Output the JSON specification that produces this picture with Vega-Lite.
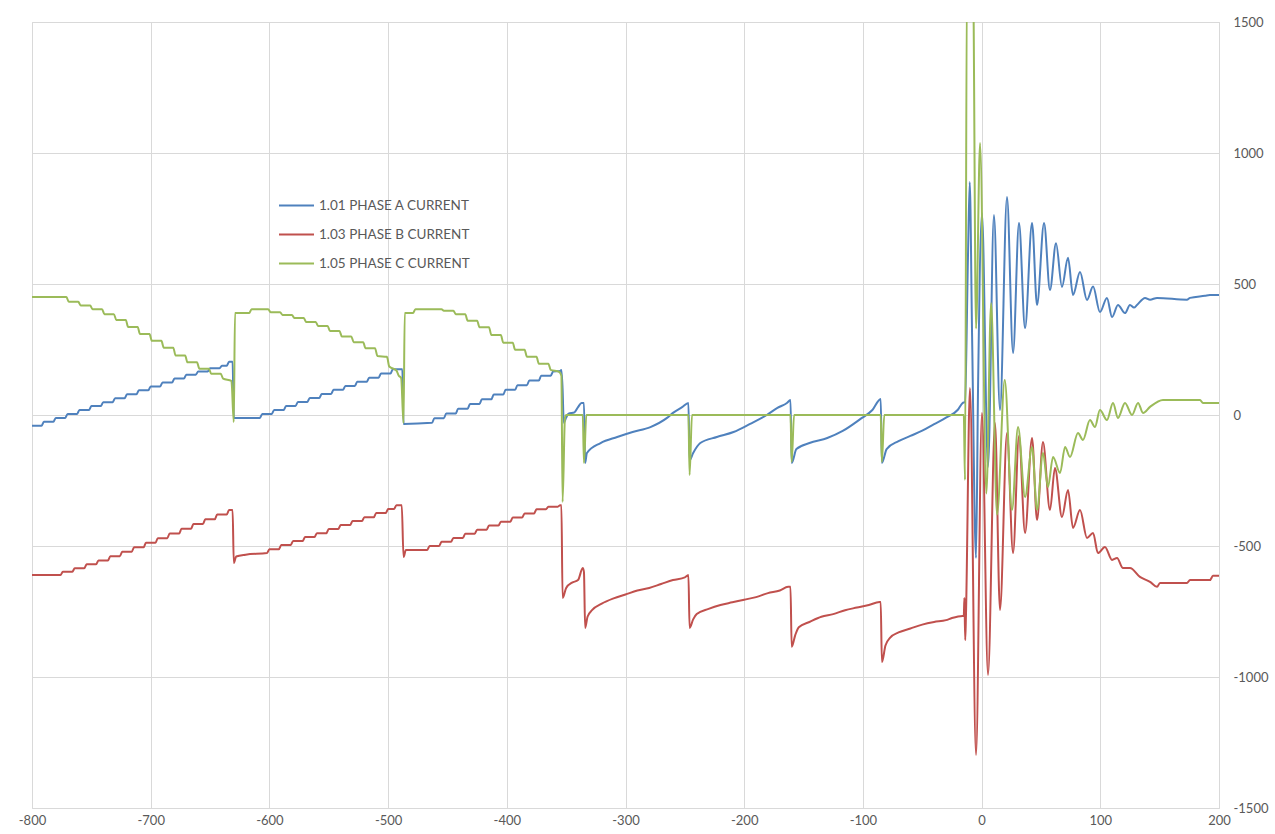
{
  "$schema": "https://vega.github.io/schema/vega-lite/v6.json",
  "width": 1187,
  "height": 786,
  "autosize": {"type": "none"},
  "padding": {"left": 32, "top": 22, "right": 56, "bottom": 26},
  "background": "white",
  "config": {
    "view": {"stroke": "#d9d9d9", "strokeWidth": 1},
    "font": "Lato",
    "axis": {"gridColor": "#d9d9d9", "gridWidth": 1, "domain": false, "ticks": false, "labelColor": "#595959", "labelFontSize": 13, "labelFont": "Lato"}
  },
  "data": {"values": [
    {"k":"A","x":-800,"y":-41},{"k":"A","x":-792,"y":-41},{"k":"A","x":-790,"y":-26},{"k":"A","x":-782,"y":-26},{"k":"A","x":-780,"y":-11},{"k":"A","x":-772,"y":-11},{"k":"A","x":-770,"y":4},{"k":"A","x":-762,"y":4},{"k":"A","x":-760,"y":19},{"k":"A","x":-752,"y":19},{"k":"A","x":-750,"y":34},{"k":"A","x":-742,"y":34},{"k":"A","x":-740,"y":49},{"k":"A","x":-732,"y":49},{"k":"A","x":-730,"y":64},{"k":"A","x":-722,"y":64},{"k":"A","x":-720,"y":79},{"k":"A","x":-712,"y":79},{"k":"A","x":-710,"y":94},{"k":"A","x":-702,"y":94},{"k":"A","x":-700,"y":109},{"k":"A","x":-692,"y":109},{"k":"A","x":-690,"y":124},{"k":"A","x":-682,"y":124},{"k":"A","x":-680,"y":139},{"k":"A","x":-672,"y":139},{"k":"A","x":-670,"y":154},{"k":"A","x":-662,"y":154},{"k":"A","x":-660,"y":166},{"k":"A","x":-652,"y":166},{"k":"A","x":-650,"y":178},{"k":"A","x":-642,"y":178},{"k":"A","x":-640,"y":188},{"k":"A","x":-636,"y":188},{"k":"A","x":-634,"y":203},{"k":"A","x":-631,"y":203},
    {"k":"A","x":-630,"y":-11},{"k":"A","x":-608,"y":-11},{"k":"A","x":-606,"y":4},{"k":"A","x":-598,"y":4},{"k":"A","x":-596,"y":19},{"k":"A","x":-588,"y":19},{"k":"A","x":-586,"y":34},{"k":"A","x":-578,"y":34},{"k":"A","x":-576,"y":50},{"k":"A","x":-568,"y":50},{"k":"A","x":-566,"y":65},{"k":"A","x":-558,"y":65},{"k":"A","x":-556,"y":80},{"k":"A","x":-548,"y":80},{"k":"A","x":-546,"y":96},{"k":"A","x":-538,"y":96},{"k":"A","x":-536,"y":111},{"k":"A","x":-528,"y":111},{"k":"A","x":-526,"y":127},{"k":"A","x":-518,"y":127},{"k":"A","x":-516,"y":142},{"k":"A","x":-508,"y":142},{"k":"A","x":-506,"y":158},{"k":"A","x":-498,"y":158},{"k":"A","x":-496,"y":175},{"k":"A","x":-488,"y":175},
    {"k":"A","x":-487,"y":-34},{"k":"A","x":-463,"y":-30},{"k":"A","x":-461,"y":-12},{"k":"A","x":-453,"y":-12},{"k":"A","x":-451,"y":6},{"k":"A","x":-443,"y":6},{"k":"A","x":-441,"y":24},{"k":"A","x":-433,"y":24},{"k":"A","x":-431,"y":42},{"k":"A","x":-423,"y":42},{"k":"A","x":-421,"y":60},{"k":"A","x":-413,"y":60},{"k":"A","x":-411,"y":78},{"k":"A","x":-403,"y":78},{"k":"A","x":-401,"y":96},{"k":"A","x":-393,"y":96},{"k":"A","x":-391,"y":114},{"k":"A","x":-383,"y":114},{"k":"A","x":-381,"y":132},{"k":"A","x":-373,"y":132},{"k":"A","x":-371,"y":150},{"k":"A","x":-363,"y":150},{"k":"A","x":-361,"y":166},{"k":"A","x":-355,"y":168},{"k":"A","x":-354,"y":172},
    {"k":"A","x":-353,"y":100},{"k":"A","x":-352,"y":-30},{"k":"A","x":-350,"y":-10},{"k":"A","x":-348,"y":5},{"k":"A","x":-343,"y":10},{"k":"A","x":-340,"y":30},{"k":"A","x":-337,"y":46},{"k":"A","x":-335,"y":46},
    {"k":"A","x":-334,"y":-183},{"k":"A","x":-332.5,"y":-145},{"k":"A","x":-321,"y":-107},{"k":"A","x":-307,"y":-84},{"k":"A","x":-294,"y":-65},{"k":"A","x":-279,"y":-46},{"k":"A","x":-265,"y":-11},{"k":"A","x":-260,"y":8},{"k":"A","x":-252,"y":31},{"k":"A","x":-247,"y":46},
    {"k":"A","x":-246,"y":-172},{"k":"A","x":-243,"y":-145},{"k":"A","x":-237,"y":-107},{"k":"A","x":-223,"y":-84},{"k":"A","x":-209,"y":-65},{"k":"A","x":-195,"y":-34},{"k":"A","x":-181,"y":0},{"k":"A","x":-172,"y":27},{"k":"A","x":-164,"y":46},{"k":"A","x":-161,"y":57},
    {"k":"A","x":-160,"y":-183},{"k":"A","x":-156,"y":-130},{"k":"A","x":-145,"y":-107},{"k":"A","x":-130,"y":-88},{"k":"A","x":-117,"y":-61},{"k":"A","x":-102,"y":-15},{"k":"A","x":-92,"y":19},{"k":"A","x":-85,"y":61},
    {"k":"A","x":-84,"y":-183},{"k":"A","x":-80,"y":-130},{"k":"A","x":-70,"y":-100},{"k":"A","x":-60,"y":-80},{"k":"A","x":-50,"y":-60},{"k":"A","x":-40,"y":-35},{"k":"A","x":-30,"y":-10},{"k":"A","x":-20,"y":20},{"k":"A","x":-16,"y":46},{"k":"A","x":-14,"y":50},
    {"k":"A","x":-11.5,"y":600},{"k":"A","x":-10,"y":889},{"k":"A","x":-8,"y":300},{"k":"A","x":-4.7,"y":-546},{"k":"A","x":-3,"y":100},{"k":"A","x":0.3,"y":771},{"k":"A","x":5.4,"y":-198},{"k":"A","x":10.4,"y":763},{"k":"A","x":15.5,"y":19},{"k":"A","x":21.4,"y":832},{"k":"A","x":26.5,"y":237},{"k":"A","x":31.5,"y":733},{"k":"A","x":36.6,"y":332},{"k":"A","x":42.5,"y":733},{"k":"A","x":46.7,"y":420},{"k":"A","x":52.6,"y":733},{"k":"A","x":57.6,"y":477},{"k":"A","x":62.7,"y":656},{"k":"A","x":67.7,"y":489},{"k":"A","x":72.8,"y":600},{"k":"A","x":77,"y":458},{"k":"A","x":82.9,"y":546},{"k":"A","x":88.8,"y":439},{"k":"A","x":93.9,"y":490},{"k":"A","x":99.7,"y":393},{"k":"A","x":105.6,"y":447},{"k":"A","x":109.9,"y":374},{"k":"A","x":114.9,"y":420},{"k":"A","x":120.8,"y":389},{"k":"A","x":125,"y":420},{"k":"A","x":128.4,"y":410},{"k":"A","x":130.9,"y":420},{"k":"A","x":137.7,"y":447},{"k":"A","x":141.9,"y":440},{"k":"A","x":147.8,"y":447},{"k":"A","x":173,"y":440},{"k":"A","x":175.6,"y":447},{"k":"A","x":188.2,"y":455},{"k":"A","x":192.4,"y":458},{"k":"A","x":200,"y":458},

    {"k":"B","x":-800,"y":-611},{"k":"B","x":-776,"y":-611},{"k":"B","x":-774,"y":-598},{"k":"B","x":-766,"y":-598},{"k":"B","x":-764,"y":-585},{"k":"B","x":-756,"y":-585},{"k":"B","x":-754,"y":-570},{"k":"B","x":-746,"y":-570},{"k":"B","x":-744,"y":-555},{"k":"B","x":-736,"y":-555},{"k":"B","x":-734,"y":-539},{"k":"B","x":-726,"y":-539},{"k":"B","x":-724,"y":-522},{"k":"B","x":-716,"y":-522},{"k":"B","x":-714,"y":-505},{"k":"B","x":-706,"y":-505},{"k":"B","x":-704,"y":-488},{"k":"B","x":-696,"y":-488},{"k":"B","x":-694,"y":-470},{"k":"B","x":-686,"y":-470},{"k":"B","x":-684,"y":-452},{"k":"B","x":-676,"y":-452},{"k":"B","x":-674,"y":-434},{"k":"B","x":-666,"y":-434},{"k":"B","x":-664,"y":-416},{"k":"B","x":-656,"y":-416},{"k":"B","x":-654,"y":-398},{"k":"B","x":-646,"y":-398},{"k":"B","x":-644,"y":-380},{"k":"B","x":-636,"y":-380},{"k":"B","x":-634,"y":-363},{"k":"B","x":-631,"y":-363},
    {"k":"B","x":-630,"y":-565},{"k":"B","x":-628,"y":-540},{"k":"B","x":-620,"y":-533},{"k":"B","x":-602,"y":-527},{"k":"B","x":-600,"y":-512},{"k":"B","x":-592,"y":-512},{"k":"B","x":-590,"y":-496},{"k":"B","x":-582,"y":-496},{"k":"B","x":-580,"y":-481},{"k":"B","x":-572,"y":-481},{"k":"B","x":-570,"y":-466},{"k":"B","x":-562,"y":-466},{"k":"B","x":-560,"y":-451},{"k":"B","x":-552,"y":-451},{"k":"B","x":-550,"y":-435},{"k":"B","x":-542,"y":-435},{"k":"B","x":-540,"y":-420},{"k":"B","x":-532,"y":-420},{"k":"B","x":-530,"y":-405},{"k":"B","x":-522,"y":-405},{"k":"B","x":-520,"y":-390},{"k":"B","x":-512,"y":-390},{"k":"B","x":-510,"y":-374},{"k":"B","x":-502,"y":-374},{"k":"B","x":-500,"y":-359},{"k":"B","x":-495,"y":-359},{"k":"B","x":-493,"y":-344},{"k":"B","x":-488.5,"y":-344},
    {"k":"B","x":-487,"y":-542},{"k":"B","x":-485,"y":-515},{"k":"B","x":-467,"y":-515},{"k":"B","x":-465,"y":-500},{"k":"B","x":-457,"y":-500},{"k":"B","x":-455,"y":-484},{"k":"B","x":-447,"y":-484},{"k":"B","x":-445,"y":-469},{"k":"B","x":-437,"y":-469},{"k":"B","x":-435,"y":-453},{"k":"B","x":-427,"y":-453},{"k":"B","x":-425,"y":-438},{"k":"B","x":-417,"y":-438},{"k":"B","x":-415,"y":-422},{"k":"B","x":-407,"y":-422},{"k":"B","x":-405,"y":-407},{"k":"B","x":-397,"y":-407},{"k":"B","x":-395,"y":-391},{"k":"B","x":-387,"y":-391},{"k":"B","x":-385,"y":-376},{"k":"B","x":-377,"y":-376},{"k":"B","x":-375,"y":-360},{"k":"B","x":-367,"y":-360},{"k":"B","x":-365,"y":-350},{"k":"B","x":-357,"y":-350},{"k":"B","x":-355,"y":-344},{"k":"B","x":-354,"y":-344},
    {"k":"B","x":-353,"y":-698},{"k":"B","x":-350,"y":-660},{"k":"B","x":-345,"y":-640},{"k":"B","x":-340,"y":-630},{"k":"B","x":-336,"y":-584},{"k":"B","x":-335,"y":-600},{"k":"B","x":-334,"y":-813},{"k":"B","x":-332,"y":-770},{"k":"B","x":-328,"y":-744},{"k":"B","x":-320,"y":-720},{"k":"B","x":-310,"y":-700},{"k":"B","x":-300,"y":-685},{"k":"B","x":-290,"y":-670},{"k":"B","x":-280,"y":-660},{"k":"B","x":-270,"y":-645},{"k":"B","x":-260,"y":-630},{"k":"B","x":-250,"y":-620},{"k":"B","x":-247,"y":-611},
    {"k":"B","x":-246,"y":-813},{"k":"B","x":-243,"y":-780},{"k":"B","x":-240,"y":-760},{"k":"B","x":-230,"y":-740},{"k":"B","x":-220,"y":-725},{"k":"B","x":-210,"y":-715},{"k":"B","x":-200,"y":-705},{"k":"B","x":-190,"y":-695},{"k":"B","x":-180,"y":-680},{"k":"B","x":-170,"y":-670},{"k":"B","x":-163,"y":-656},{"k":"B","x":-161,"y":-656},
    {"k":"B","x":-160,"y":-885},{"k":"B","x":-157,"y":-840},{"k":"B","x":-154,"y":-810},{"k":"B","x":-145,"y":-790},{"k":"B","x":-135,"y":-770},{"k":"B","x":-125,"y":-760},{"k":"B","x":-115,"y":-745},{"k":"B","x":-105,"y":-735},{"k":"B","x":-95,"y":-725},{"k":"B","x":-86,"y":-714},{"k":"B","x":-85,"y":-714},
    {"k":"B","x":-84,"y":-943},{"k":"B","x":-81,"y":-880},{"k":"B","x":-77,"y":-850},{"k":"B","x":-70,"y":-830},{"k":"B","x":-60,"y":-815},{"k":"B","x":-50,"y":-800},{"k":"B","x":-40,"y":-790},{"k":"B","x":-30,"y":-783},{"k":"B","x":-25,"y":-775},{"k":"B","x":-16,"y":-767},{"k":"B","x":-15,"y":-767},{"k":"B","x":-14.5,"y":-698},{"k":"B","x":-13.8,"y":-859},{"k":"B","x":-13.2,"y":-770},
    {"k":"B","x":-9.8,"y":103},{"k":"B","x":-4.7,"y":-1298},{"k":"B","x":0.3,"y":8},{"k":"B","x":5.4,"y":-992},{"k":"B","x":11.3,"y":-31},{"k":"B","x":15.5,"y":-744},{"k":"B","x":21.4,"y":-69},{"k":"B","x":26.5,"y":-527},{"k":"B","x":31.5,"y":-80},{"k":"B","x":36.6,"y":-450},{"k":"B","x":42.5,"y":-88},{"k":"B","x":46.7,"y":-401},{"k":"B","x":51.7,"y":-103},{"k":"B","x":57.6,"y":-363},{"k":"B","x":61.8,"y":-202},{"k":"B","x":67.7,"y":-389},{"k":"B","x":72.8,"y":-286},{"k":"B","x":77,"y":-431},{"k":"B","x":82.9,"y":-363},{"k":"B","x":88.8,"y":-469},{"k":"B","x":93.9,"y":-450},{"k":"B","x":98,"y":-527},{"k":"B","x":103.9,"y":-504},{"k":"B","x":109.9,"y":-553},{"k":"B","x":114.1,"y":-546},{"k":"B","x":119.1,"y":-584},{"k":"B","x":125,"y":-584},{"k":"B","x":133.4,"y":-618},{"k":"B","x":141.9,"y":-637},{"k":"B","x":147.8,"y":-656},{"k":"B","x":150.3,"y":-641},{"k":"B","x":173,"y":-641},{"k":"B","x":175.6,"y":-630},{"k":"B","x":192.4,"y":-630},{"k":"B","x":194.9,"y":-614},{"k":"B","x":200,"y":-614},

    {"k":"C","x":-800,"y":450},{"k":"C","x":-771,"y":450},{"k":"C","x":-769,"y":432},{"k":"C","x":-761,"y":432},{"k":"C","x":-759,"y":418},{"k":"C","x":-751,"y":418},{"k":"C","x":-749,"y":404},{"k":"C","x":-741,"y":404},{"k":"C","x":-739,"y":385},{"k":"C","x":-731,"y":385},{"k":"C","x":-729,"y":363},{"k":"C","x":-721,"y":363},{"k":"C","x":-719,"y":336},{"k":"C","x":-711,"y":336},{"k":"C","x":-709,"y":309},{"k":"C","x":-701,"y":309},{"k":"C","x":-699,"y":283},{"k":"C","x":-691,"y":283},{"k":"C","x":-689,"y":257},{"k":"C","x":-681,"y":257},{"k":"C","x":-679,"y":227},{"k":"C","x":-671,"y":227},{"k":"C","x":-669,"y":201},{"k":"C","x":-661,"y":201},{"k":"C","x":-659,"y":177},{"k":"C","x":-651,"y":177},{"k":"C","x":-649,"y":157},{"k":"C","x":-641,"y":157},{"k":"C","x":-639,"y":139},{"k":"C","x":-632,"y":130},
    {"k":"C","x":-630,"y":-27},{"k":"C","x":-629,"y":389},{"k":"C","x":-617,"y":389},{"k":"C","x":-615,"y":404},{"k":"C","x":-601,"y":404},{"k":"C","x":-599,"y":392},{"k":"C","x":-591,"y":392},{"k":"C","x":-589,"y":382},{"k":"C","x":-581,"y":382},{"k":"C","x":-579,"y":370},{"k":"C","x":-571,"y":370},{"k":"C","x":-569,"y":355},{"k":"C","x":-561,"y":355},{"k":"C","x":-559,"y":340},{"k":"C","x":-551,"y":340},{"k":"C","x":-549,"y":321},{"k":"C","x":-541,"y":321},{"k":"C","x":-539,"y":300},{"k":"C","x":-531,"y":300},{"k":"C","x":-529,"y":278},{"k":"C","x":-521,"y":278},{"k":"C","x":-519,"y":255},{"k":"C","x":-511,"y":255},{"k":"C","x":-509,"y":225},{"k":"C","x":-501,"y":222},{"k":"C","x":-499,"y":185},{"k":"C","x":-493,"y":170},{"k":"C","x":-491,"y":150},{"k":"C","x":-489,"y":141},
    {"k":"C","x":-487,"y":-31},{"k":"C","x":-486,"y":389},{"k":"C","x":-479,"y":389},{"k":"C","x":-477,"y":404},{"k":"C","x":-455,"y":404},{"k":"C","x":-453,"y":398},{"k":"C","x":-445,"y":398},{"k":"C","x":-443,"y":385},{"k":"C","x":-435,"y":385},{"k":"C","x":-433,"y":360},{"k":"C","x":-425,"y":360},{"k":"C","x":-423,"y":335},{"k":"C","x":-415,"y":335},{"k":"C","x":-413,"y":305},{"k":"C","x":-405,"y":305},{"k":"C","x":-403,"y":276},{"k":"C","x":-395,"y":276},{"k":"C","x":-393,"y":249},{"k":"C","x":-385,"y":249},{"k":"C","x":-383,"y":222},{"k":"C","x":-375,"y":222},{"k":"C","x":-373,"y":196},{"k":"C","x":-365,"y":196},{"k":"C","x":-363,"y":172},{"k":"C","x":-356,"y":165},{"k":"C","x":-354,"y":150},
    {"k":"C","x":-353,"y":-332},{"k":"C","x":-351,"y":-10},{"k":"C","x":-350,"y":0},{"k":"C","x":-336,"y":0},{"k":"C","x":-335,"y":-183},{"k":"C","x":-333,"y":0},{"k":"C","x":-247,"y":0},{"k":"C","x":-246,"y":-229},{"k":"C","x":-244,"y":0},{"k":"C","x":-161,"y":0},{"k":"C","x":-160,"y":-179},{"k":"C","x":-158,"y":0},{"k":"C","x":-85,"y":0},{"k":"C","x":-84,"y":-179},{"k":"C","x":-82,"y":0},{"k":"C","x":-15,"y":0},
    {"k":"C","x":-14,"y":-248},{"k":"C","x":-12.3,"y":1700},{"k":"C","x":-7.3,"y":1700},{"k":"C","x":-4.7,"y":330},{"k":"C","x":-1.3,"y":1038},{"k":"C","x":4,"y":-300},{"k":"C","x":8,"y":427},{"k":"C","x":13,"y":-380},{"k":"C","x":19.5,"y":134},{"k":"C","x":25.6,"y":-363},{"k":"C","x":30.7,"y":-46},{"k":"C","x":36.6,"y":-313},{"k":"C","x":42.5,"y":-122},{"k":"C","x":46.7,"y":-363},{"k":"C","x":51.7,"y":-145},{"k":"C","x":55.9,"y":-275},{"k":"C","x":60.2,"y":-160},{"k":"C","x":66.1,"y":-221},{"k":"C","x":70.3,"y":-122},{"k":"C","x":74.5,"y":-160},{"k":"C","x":81.2,"y":-69},{"k":"C","x":85.4,"y":-95},{"k":"C","x":91.3,"y":-19},{"k":"C","x":95.5,"y":-46},{"k":"C","x":99.7,"y":19},{"k":"C","x":105.6,"y":-19},{"k":"C","x":110.7,"y":46},{"k":"C","x":114.9,"y":-11},{"k":"C","x":120.8,"y":46},{"k":"C","x":126.7,"y":0},{"k":"C","x":131.8,"y":46},{"k":"C","x":136,"y":8},{"k":"C","x":141.9,"y":31},{"k":"C","x":152.8,"y":57},{"k":"C","x":158.7,"y":57},{"k":"C","x":184,"y":57},{"k":"C","x":186.5,"y":46},{"k":"C","x":200,"y":46}
  ]},
  "mark": {"type": "line", "clip": true, "strokeWidth": 2, "interpolate": "monotone"},
  "encoding": {
    "x": {"field": "x", "type": "quantitative", "scale": {"domain": [-800, 200], "nice": false, "zero": false},
          "axis": {"title": null, "values": [-800,-700,-600,-500,-400,-300,-200,-100,0,100,200], "labelExpr": "toString(datum.value)", "labelPadding": 6, "labelFlush": false}},
    "y": {"field": "y", "type": "quantitative", "scale": {"domain": [-1500, 1500], "nice": false},
          "axis": {"title": null, "orient": "right", "values": [-1500,-1000,-500,0,500,1000,1500], "labelExpr": "toString(datum.value)", "labelPadding": 14, "labelAlign": "left", "labelFlush": false}},
    "color": {"field": "k", "type": "nominal",
      "scale": {"domain": ["A","B","C"], "range": ["#4F81BD","#C0504D","#9BBB59"]},
      "legend": {"title": null, "orient": "none", "legendX": 246, "legendY": 165,
        "labelExpr": "datum.label == 'A' ? '1.01 PHASE A CURRENT' : datum.label == 'B' ? '1.03 PHASE B CURRENT' : '1.05 PHASE C CURRENT'",
        "symbolType": "stroke", "symbolSize": 1225, "symbolStrokeWidth": 2, "rowPadding": 4, "labelFontSize": 13.5, "labelColor": "#595959", "labelFont": "Lato", "labelOffset": 4}},
    "order": {"field": "x", "type": "quantitative"}
  }
}
